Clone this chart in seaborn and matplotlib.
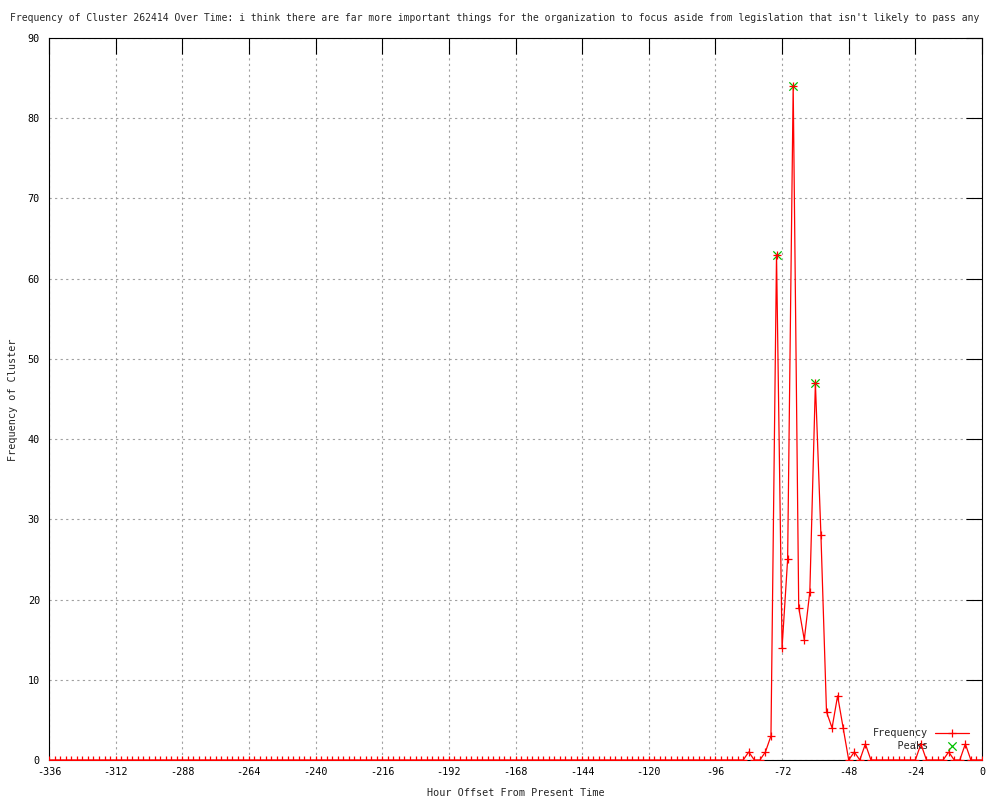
import numpy as np
import pandas as pd
import matplotlib
matplotlib.use("Agg")
import matplotlib.pyplot as plt
import seaborn as sns

title_text = ("Frequency of Cluster 262414 Over Time: i think there are far more important "
              "things for the organization to focus aside from legislation that isn't likely to pass any")

# hourly offsets, one sample every 2 hours
hours = list(range(-336, 1, 2))

# non-zero counts (everything else is 0)
nonzero = {
    -84: 1, -78: 1, -76: 3, -74: 63, -72: 14, -70: 25, -68: 84, -66: 19,
    -64: 15, -62: 21, -60: 47, -58: 28, -56: 6, -54: 4, -52: 8, -50: 4,
    -46: 1, -42: 2, -22: 2, -12: 1, -6: 2,
}
freq = [nonzero.get(h, 0) for h in hours]

peak_hours = [-74, -68, -60]
peak_vals = [63, 84, 47]

x_ticks = list(range(-336, 1, 24))
y_ticks = list(range(0, 91, 10))

sns.set_theme(style="white")
plt.rcParams['font.family'] = ['DejaVu Sans Mono', 'DejaVu Sans']
plt.rcParams['axes.unicode_minus'] = False
plt.rcParams['font.size'] = 7.3

df = pd.DataFrame({"hour": hours, "freq": freq})
peaks = pd.DataFrame({"hour": peak_hours, "freq": peak_vals})

fig = plt.figure(figsize=(10, 8), dpi=100)
ax = fig.add_axes([0.049, 0.05, 0.933, 0.9025])

sns.lineplot(data=df, x="hour", y="freq", ax=ax, color="#ff0000", linewidth=0.9,
             marker="+", markersize=6, markeredgecolor="#ff0000", markeredgewidth=0.9,
             label="Frequency", zorder=3)
sns.scatterplot(data=peaks, x="hour", y="freq", ax=ax, marker="x", color="#00c000",
                s=36, linewidth=0.9, label="    Peaks", zorder=2)

ax.set_xlim(-336, 0)
ax.set_ylim(0, 90)
ax.set_xticks(x_ticks)
ax.set_yticks(y_ticks)
ax.set_xlabel("")
ax.set_ylabel("")

ax.grid(True, color="#a0a0a0", linestyle=(0, (2, 3)), linewidth=0.8)
ax.tick_params(axis="both", direction="in", length=11.5, width=0.8, color="black",
               top=True, right=True, labelsize=7.3, colors="black")
ax.tick_params(axis="x", pad=5)
ax.tick_params(axis="y", pad=6.5)
for sp in ax.spines.values():
    sp.set_color("black")
    sp.set_linewidth(0.8)

leg = ax.legend(loc="lower right", bbox_to_anchor=(0.9935, 0.0025), frameon=False,
                markerfirst=False, handlelength=3.3, handletextpad=0.7,
                labelspacing=0.3, borderpad=0.2, fontsize=7.3)

fig.text(0.01, 0.9775, title_text, ha="left", va="center", fontsize=7.05)
fig.text(0.5155, 0.009, "Hour Offset From Present Time", ha="center", va="center", fontsize=7.3)
fig.text(0.013, 0.5, "Frequency of Cluster", ha="center", va="center", rotation=90, fontsize=7.3)

fig.savefig("out.png", dpi=100)
